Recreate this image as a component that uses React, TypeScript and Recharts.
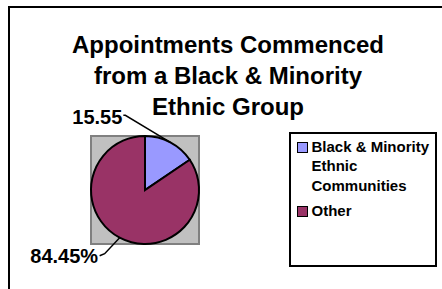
import { Legend, Pie, PieChart, Cell } from "recharts";

const categories = ["Black & Minority Ethnic Communities", "Other"];
const values = [15.55, 84.45];
const sliceLabels = ["15.55", "84.45%"];
const legendLines = [["Black & Minority", "Ethnic", "Communities"], ["Other"]];
const colors = ["#9999FF", "#993366"];
const titleLines = ["Appointments Commenced", "from a Black & Minority", "Ethnic Group"];

const data = categories.map((name, i) => ({ name, value: values[i] }));

const FONT = "Arial, 'Liberation Sans', Helvetica, sans-serif";
const CX = 145;
const CY = 190;
const R = 54;

// leader line: elbow and end offsets from the slice edge, plus text nudge
const leaders = [
  { elbow: [-45, -27], end: [-47, -27], text: [-1, 2] },
  { elbow: [-15, 16], end: [-20, 18], text: [-1.5, 0] },
];

const RAD = Math.PI / 180;

function SliceLabel(props: any) {
  const { midAngle, index } = props;
  const ex = CX + R * Math.cos(-midAngle * RAD);
  const ey = CY + R * Math.sin(-midAngle * RAD);
  const l = leaders[index];
  const bx = ex + l.elbow[0];
  const by = ey + l.elbow[1];
  const tx = ex + l.end[0];
  const ty = ey + l.end[1];
  return (
    <g>
      <polyline
        points={`${ex},${ey} ${bx},${by} ${tx},${ty}`}
        fill="none"
        stroke="#000"
        strokeWidth={1.5}
      />
      <text
        x={tx + l.text[0]}
        y={ty + l.text[1]}
        textAnchor="end"
        dominantBaseline="central"
        fontFamily={FONT}
        fontWeight="bold"
        fontSize={20}
        fill="#000"
      >
        {sliceLabels[index]}
      </text>
    </g>
  );
}

function LegendBox() {
  return (
    <div
      style={{
        width: 148,
        height: 135,
        boxSizing: "border-box",
        border: "2px solid #000",
        background: "#fff",
        padding: "3px 0 0 6px",
        fontFamily: FONT,
        fontWeight: "bold",
        fontSize: 15,
        lineHeight: "19.3px",
        color: "#000",
        textAlign: "left",
      }}
    >
      {categories.map((c, i) => (
        <div key={c} style={{ display: "flex", alignItems: "flex-start", marginBottom: 6.5 }}>
          <span
            style={{
              width: 11,
              height: 11,
              boxSizing: "border-box",
              border: "1.5px solid #000",
              background: colors[i],
              marginTop: 4.5,
              marginRight: 3.5,
              flexShrink: 0,
            }}
          />
          <div>
            {legendLines[i].map((t) => (
              <div key={t}>{t}</div>
            ))}
          </div>
        </div>
      ))}
    </div>
  );
}

export default function App() {
  return (
    <div style={{ position: "fixed", left: 0, top: 0, width: 442, height: 289, background: "#fff", overflow: "hidden" }}>
      <div
        style={{
          position: "absolute",
          left: 8,
          top: 6,
          width: 460,
          height: 300,
          border: "2px solid #000",
        }}
      />
      <div
        style={{
          position: "absolute",
          left: 90,
          top: 135,
          width: 110,
          height: 110,
          boxSizing: "border-box",
          border: "2px solid #808080",
          background: "#C0C0C0",
        }}
      />
      <div
        style={{
          position: "absolute",
          left: 28,
          top: 29,
          width: 400,
          textAlign: "center",
          fontFamily: FONT,
          fontWeight: "bold",
          fontSize: 24,
          lineHeight: "31px",
          color: "#000",
        }}
      >
        {titleLines.map((t) => (
          <div key={t}>{t}</div>
        ))}
      </div>
      <div style={{ position: "absolute", left: 0, top: 0 }}>
        <PieChart width={442} height={289} margin={{ top: 0, right: 0, bottom: 0, left: 0 }}>
          <Pie
            data={data}
            dataKey="value"
            nameKey="name"
            cx={CX}
            cy={CY}
            outerRadius={R}
            startAngle={90}
            endAngle={-270}
            stroke="#000"
            strokeWidth={2}
            label={SliceLabel}
            labelLine={false}
            isAnimationActive={false}
          >
            {data.map((d, i) => (
              <Cell key={d.name} fill={colors[i]} />
            ))}
          </Pie>
          <Legend
            verticalAlign="bottom"
            align="left"
            content={<LegendBox />}
            wrapperStyle={{ position: "absolute", left: 289, top: 132, bottom: "auto", width: 148, height: 135 }}
          />
        </PieChart>
      </div>
    </div>
  );
}
